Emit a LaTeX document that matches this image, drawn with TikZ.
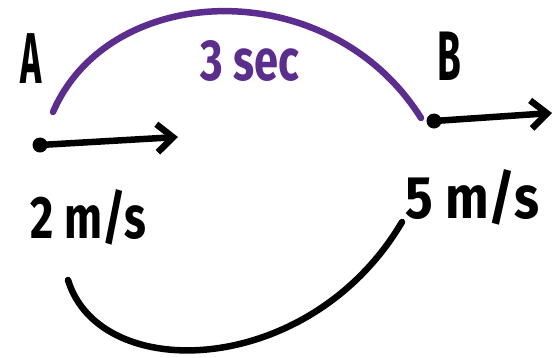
\documentclass[tikz,border=0pt]{standalone}
\usepackage{fontspec}
\setmainfont{Fira Sans}
\definecolor{grape}{HTML}{5B2D8E}
\usetikzlibrary{arrows.meta}
\newcommand{\marker}[1]{\bfseries\fontsize{#1}{#1}\selectfont}
\tikzset{
  stroke/.style={line width=6.5pt, line cap=round, line join=round},
  vel/.style={stroke, -{Straight Barb[length=16pt, width=28pt]}},
  spot/.style={circle, fill, inner sep=0pt, minimum size=15pt},
  hand/.style={inner sep=0pt, anchor=base west, transform shape}
}

\begin{document}
\begin{tikzpicture}[x=1pt, y=-1pt]
  \useasboundingbox (0,0) rectangle (554,357);

  % points and velocities
  \node[spot] (ptA) at (40,145) {};
  \node[spot] (ptB) at (434,121) {};
  \coordinate (tipA) at (178,137);
  \coordinate (tipB) at (552,113);
  \draw[vel] (ptA.center) -- (tipA);
  \draw[vel] (ptB.center) -- (tipB);

  \node[hand, font=\marker{72}, xscale=0.5] (labA) at (20,83) {A};
  \node[hand, font=\marker{70}, xscale=0.55] (labB) at (437,80) {B};
  \node[hand, font=\marker{58}, xscale=0.75, grape] (time) at (200,80) {3 sec};
  \node[hand, font=\marker{60}, xscale=0.75] (velA) at (30,238) {2 m/s};
  \node[hand, font=\marker{60}, xscale=0.86] (velB) at (405,218) {5 m/s};

  % arcs
  \coordinate (topL) at (53,112);
  \coordinate (topR) at (421,118);
  \coordinate (botL) at (68,280);
  \coordinate (botR) at (402,222);
  \draw[stroke, grape] (topL) .. controls (110,-20) and (330,-27) .. (topR);
  \draw[stroke] (botL) .. controls (100,385) and (310,378) .. (botR);
\end{tikzpicture}
\end{document}
